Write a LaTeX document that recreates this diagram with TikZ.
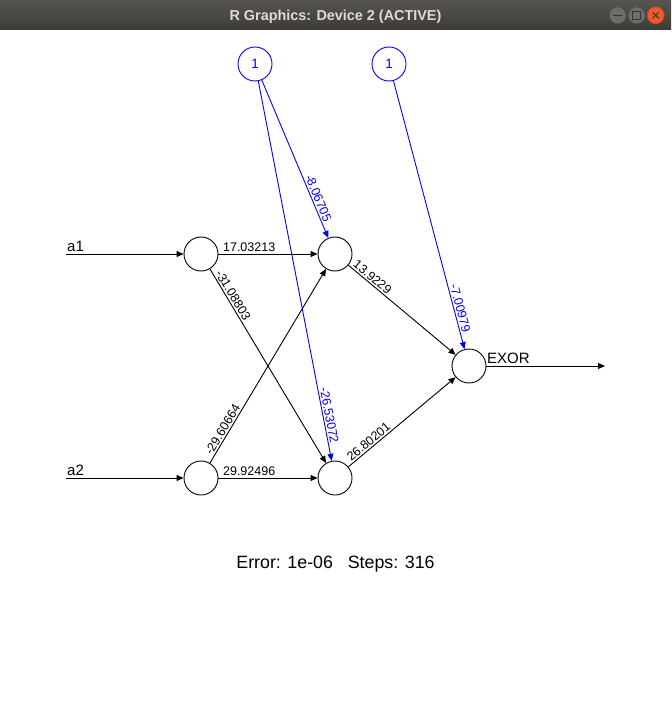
\documentclass[tikz,border=0pt]{standalone}
\usepackage{fontspec}
\setmainfont{Liberation Sans}
\usetikzlibrary{arrows.meta}
\definecolor{barTop}{HTML}{57554F}
\definecolor{barBot}{HTML}{3C3B37}
\definecolor{titleTxt}{HTML}{DFDBD2}
\definecolor{btnGray}{HTML}{6E6D69}
\definecolor{btnRing}{HTML}{4F4E4A}
\definecolor{btnSym}{HTML}{35342F}
\definecolor{btnClose}{HTML}{EE5A2C}
\definecolor{btnCloseRing}{HTML}{C2461F}
\definecolor{rblue}{HTML}{0000FF}
\begin{document}
\begin{tikzpicture}[x=1pt,y=-1pt,
  neuron/.style={circle,draw=black,line width=0.9pt,minimum size=34pt,inner sep=0pt,fill=white},
  biasn/.style={neuron,draw=rblue,text=rblue,font=\fontsize{13.5}{16}\selectfont},
  conn/.style={line width=0.9pt,-{Triangle[length=7pt,width=6pt]}},
  bconn/.style={conn,draw=rblue},
  wlab/.style={sloped,above,inner sep=1.5pt,font=\fontsize{12.5}{15}\selectfont},
  bwlab/.style={wlab,text=rblue},
  iolab/.style={font=\fontsize{15}{18}\selectfont,inner sep=0pt},
  winbtn/.style={circle,minimum size=17pt,inner sep=0pt,line width=0.8pt},
  btnmark/.style={btnSym,line width=1.2pt}
]
\useasboundingbox (0,0) rectangle (671,703);
\fill[white] (0,0) rectangle (671,703);
% title bar
\shade[top color=barTop,bottom color=barBot] (0,0) rectangle (671,30);
\node[font=\bfseries\fontsize{14.4}{17}\selectfont,text=titleTxt,anchor=base] (title) at (335.5,20.5) {R Graphics: Device 2 (ACTIVE)};
\node[winbtn,fill=btnGray,draw=btnRing] (bmin) at (617.7,15.3) {};
\node[winbtn,fill=btnGray,draw=btnRing] (bmax) at (636.7,15.3) {};
\node[winbtn,fill=btnClose,draw=btnCloseRing] (bcls) at (655.7,15.3) {};
\draw[btnmark] ([xshift=-4.5pt]bmin.center) -- ([xshift=4.5pt]bmin.center);
\draw[btnmark,line width=1pt] ([shift={(-4,-4)}]bmax.center) rectangle ([shift={(4,4)}]bmax.center);
\draw[btnmark,line width=1pt] ([shift={(-3,-3)}]bcls.center) -- ([shift={(3,3)}]bcls.center);
\draw[btnmark,line width=1pt] ([shift={(-3,3)}]bcls.center) -- ([shift={(3,-3)}]bcls.center);
% network nodes
\node[biasn] (b1) at (255,64) {1};
\node[biasn] (b2) at (389,64) {1};
\node[neuron] (i1) at (201,254) {};
\node[neuron] (i2) at (201,478) {};
\node[neuron] (h1) at (335,254) {};
\node[neuron] (h2) at (335,478) {};
\node[neuron] (o) at (469,366) {};
\coordinate (ia1) at (66,254);
\coordinate (ia2) at (66,478);
\coordinate (oe) at (605,366);
% connectors
\draw[conn] (ia1) -- (i1);
\draw[conn] (ia2) -- (i2);
\node[iolab,anchor=base west] (la1) at (67,251) {a1};
\node[iolab,anchor=base west] (la2) at (67,475) {a2};
\draw[conn] (i1) -- node[wlab,pos=0.31] (w1) {17.03213} (h1);
\draw[conn] (i1) -- node[wlab,pos=0.153] (w2) {-31.08803} (h2);
\draw[conn] (i2) -- node[wlab,pos=0.156] (w3) {-29.60664} (h1);
\draw[conn] (i2) -- node[wlab,pos=0.31] (w4) {29.92496} (h2);
\draw[conn] (h1) -- node[wlab,pos=0.187] (w5) {13.9229} (o);
\draw[conn] (h2) -- node[wlab,pos=0.226] (w6) {26.80201} (o);
\draw[bconn] (b1) -- node[bwlab,pos=0.764] (w7) {-8.06705} (h1);
\draw[bconn] (b1) -- node[bwlab,pos=0.883] (w8) {-26.53072} (h2);
\draw[bconn] (b2) -- node[bwlab,pos=0.853] (w9) {-7.00979} (o);
\draw[conn] (o) -- (oe);
\node[iolab,anchor=base west] (lout) at (487,363.5) {EXOR};
\node[font=\fontsize{17.8}{21}\selectfont,anchor=base,inner sep=0pt] (err) at (335.5,568) {Error: 1e-06\ \ \ Steps: 316};
\end{tikzpicture}
\end{document}
